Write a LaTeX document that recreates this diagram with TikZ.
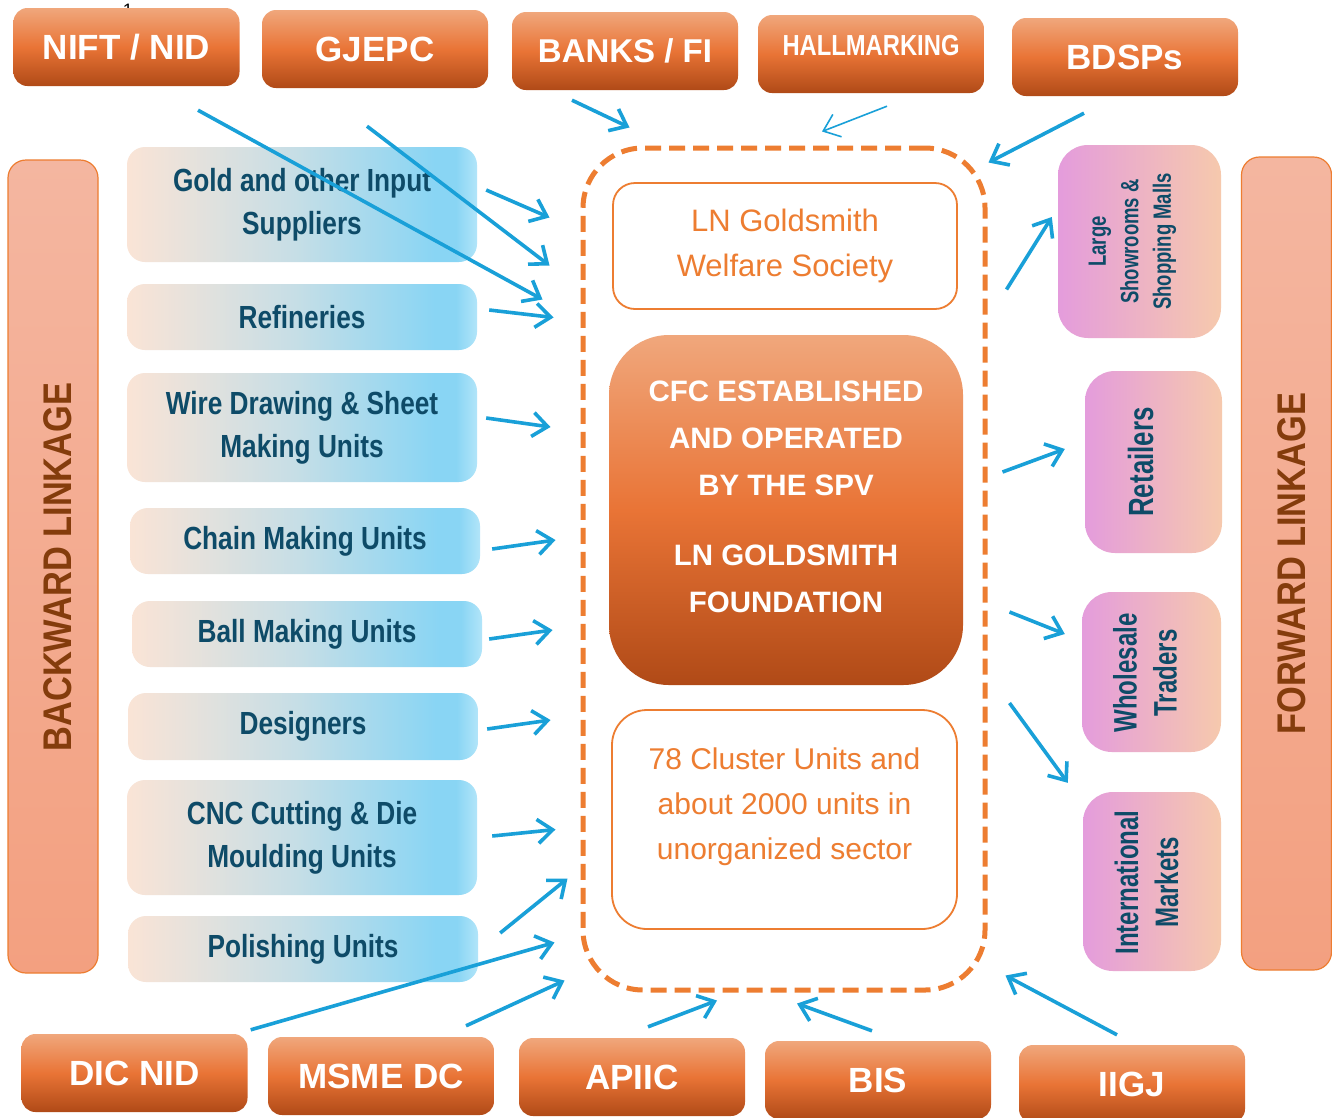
\documentclass[tikz,border=0pt]{standalone}
\usepackage{fontspec}
\setmainfont{Liberation Sans}
\newfontfamily\narrowfont[FakeStretch=0.82]{Liberation Sans}
\newfontfamily\tightfont[FakeStretch=0.74]{Liberation Sans}
\newfontfamily\linkfont[FakeStretch=0.86]{Liberation Sans}
\usetikzlibrary{arrows.meta}

\definecolor{orangeline}{RGB}{237,125,49}
\definecolor{orangetop}{RGB}{240,167,124}
\definecolor{orangemid}{RGB}{233,116,54}
\definecolor{orangebot}{RGB}{176,74,23}
\definecolor{peachleft}{RGB}{250,228,214}
\definecolor{bluemid}{RGB}{198,222,230}
\definecolor{blueright}{RGB}{137,213,244}
\definecolor{blueedge}{RGB}{178,229,249}
\definecolor{pinkleft}{RGB}{228,156,220}
\definecolor{pinkright}{RGB}{246,201,173}
\definecolor{salmontop}{RGB}{244,182,160}
\definecolor{salmonbot}{RGB}{243,160,128}
\definecolor{tealtext}{RGB}{14,75,104}
\definecolor{browntext}{RGB}{132,60,12}
\definecolor{arrowblue}{RGB}{25,160,216}

\newcommand{\fs}[2]{\fontsize{#1}{#2}\selectfont}

\pgfdeclarehorizontalshading{bluebar}{100bp}{color(0bp)=(peachleft); color(25bp)=(peachleft);
  color(49bp)=(bluemid); color(69bp)=(blueright); color(72bp)=(blueright);
  color(75bp)=(blueedge); color(100bp)=(blueedge)}

\tikzset{
  agency/.style={rounded corners=14pt, top color=orangetop, bottom color=orangebot,
    middle color=orangemid, minimum width=226pt, minimum height=78pt, inner sep=0pt,
    text=white, font=\bfseries\fs{35}{40}},
  supplier/.style={rounded corners=18pt, shading=bluebar, minimum width=350pt,
    inner sep=0pt, align=center, text=tealtext, font=\narrowfont\bfseries\fs{32}{43}},
  market/.style={rounded corners=30pt, left color=pinkleft, right color=pinkright,
    inner sep=0pt},
  markettext/.style={rotate=90, text=tealtext, align=center, inner sep=0pt},
  linkbar/.style={rounded corners=18pt, top color=salmontop, bottom color=salmonbot,
    draw=orangeline, line width=1.2pt, minimum width=90pt, minimum height=813pt},
  linktext/.style={rotate=90, text=browntext, font=\linkfont\bfseries\fs{40}{44}},
  inbox/.style={draw=orangeline, line width=1.8pt, fill=white},
  flow/.style={draw=arrowblue, line width=3.6pt, -{Straight Barb[length=15pt,width=24pt]}}
}

\begin{document}
\begin{tikzpicture}[x=1pt, y=-1pt]
	\useasboundingbox[fill=white] (0,0) rectangle (1332,1117);
	\node[font=\fs{18}{20}] (pageno) at (128,10) {1};

	% agencies on top and bottom
	\node[agency] (nift) at (126.5,47) {NIFT / NID};
	\node[agency] (gjepc) at (375,49) {GJEPC};
	\node[agency, font=\bfseries\fs{33}{40}] (banks) at (625,51) {BANKS / FI};
	\node[agency, font=\narrowfont\bfseries\fs{29}{34}] (hallm) at (871,54) {\raisebox{8pt}[\height][\depth]{HALLMARKING}};
	\node[agency] (bdsps) at (1125,57) {BDSPs};
	\node[agency] (dicnid) at (134.5,1073) {DIC NID};
	\node[agency] (msme) at (381,1076) {MSME DC};
	\node[agency] (apiic) at (632,1077) {APIIC};
	\node[agency] (bis) at (878,1080) {BIS};
	\node[agency] (iigj) at (1132,1084) {IIGJ};

	% linkage bars
	\node[linkbar] (bwd) at (53,566.5) {};
	\node[linktext] (bwdtext) at (57.5,567) {BACKWARD LINKAGE};
	\node[linkbar] (fwd) at (1286.5,563.5) {};
	\node[linktext] (fwdtext) at (1292,563.5) {FORWARD LINKAGE};

	% backward linkage units
	\node[supplier, minimum height=115pt] (gold) at (302,204.5) {Gold and other Input\\Suppliers};
	\node[supplier, minimum height=66pt] (refin) at (302,317) {Refineries};
	\node[supplier, minimum height=109pt] (wire) at (302,427.5) {Wire Drawing \& Sheet\\Making Units};
	\node[supplier, minimum height=66pt] (chain) at (305,541) {Chain Making Units};
	\node[supplier, minimum height=66pt] (ball) at (307,634) {Ball Making Units};
	\node[supplier, minimum height=67pt] (design) at (303,726.5) {Designers};
	\node[supplier, minimum height=115pt] (cnc) at (302,837.5) {CNC Cutting \& Die\\Moulding Units};
	\node[supplier, minimum height=66pt] (polish) at (303,949) {Polishing Units};

	% cluster
	\node[draw=orangeline, line width=5pt, dash pattern=on 16pt off 8pt, rounded corners=60pt,
	  minimum width=402pt, minimum height=842pt] (cluster) at (784,569) {};
	\node[inbox, rounded corners=22pt, minimum width=344pt, minimum height=126pt, align=center,
	  text=orangeline, font=\fs{31}{45}] (society) at (785,246) {LN Goldsmith\\Welfare Society};
	\node[rounded corners=60pt, top color=orangetop, bottom color=orangebot, middle color=orangemid,
	  minimum width=354pt, minimum height=350pt] (cfc) at (786,510) {};
	\node[align=center, text=white, font=\bfseries\fs{29.5}{47}] (cfctext) at (786,497)
	  {CFC ESTABLISHED\\AND OPERATED\\BY THE SPV\\[22.5pt]LN GOLDSMITH\\FOUNDATION};
	\node[inbox, rounded corners=35pt, minimum width=345pt, minimum height=219pt] (units) at (784.5,819.5) {};
	\node[align=center, text=orangeline, font=\fs{30}{45}] (unitstext) at (784.5,807)
	  {78 Cluster Units and\\about 2000 units in\\unorganized sector};

	% forward linkage markets
	\node[market, minimum width=163pt, minimum height=193pt] (malls) at (1139.5,241.5) {};
	\node[markettext, font=\tightfont\bfseries\fs{25}{32.5}] (mallstext) at (1132.5,241.5) {Large\\Showrooms \&\\Shopping Malls};
	\node[market, minimum width=137pt, minimum height=182pt] (retail) at (1153.5,462) {};
	\node[markettext, font=\tightfont\bfseries\fs{35}{40}] (retailtext) at (1140.5,462) {Retailers};
	\node[market, minimum width=139pt, minimum height=160pt] (whole) at (1151.5,672) {};
	\node[markettext, font=\tightfont\bfseries\fs{32.5}{40}] (wholetext) at (1145,673) {Wholesale\\Traders};
	\node[market, minimum width=138pt, minimum height=179pt] (intl) at (1152,881.5) {};
	\node[markettext, font=\tightfont\bfseries\fs{32.5}{40}] (intltext) at (1146.5,882.5) {International\\Markets};

	% arrows into the cluster
	\draw[flow] ([shift={(9,-14.5)}]gold.east) -- ([shift={(-31,72)}]cluster.north west);
	\draw[flow] ([shift={(71.5,24)}]nift.south) -- ([shift={(-38,154)}]cluster.north west);
	\draw[flow] ([shift={(-8,38)}]gjepc.south) -- ([shift={(-31,120)}]cluster.north west);
	\draw[flow] ([shift={(12,-7)}]refin.east) -- ([shift={(-27,172)}]cluster.north west);
	\draw[flow] ([shift={(9,-9.5)}]wire.east) -- ([shift={(-30,-142)}]cluster.west);
	\draw[flow] ([shift={(12,8)}]chain.east) -- ([shift={(-25,-29)}]cluster.west);
	\draw[flow] ([shift={(7,5)}]ball.east) -- ([shift={(-28,61)}]cluster.west);
	\draw[flow] ([shift={(9,2.5)}]design.east) -- ([shift={(-30,151)}]cluster.west);
	\draw[flow] ([shift={(15,-1.5)}]cnc.east) -- ([shift={(-25,-163)}]cluster.south west);
	\draw[flow] ([shift={(22,-16)}]polish.east) -- ([shift={(-13,-114)}]cluster.south west);
	\draw[flow] ([shift={(3,-4)}]dicnid.north east) -- ([shift={(-26,-50)}]cluster.south west);
	\draw[flow] ([shift={(85,-11)}]msme.north) -- ([shift={(-16,-12)}]cluster.south west);
	\draw[flow] ([shift={(16,-11)}]apiic.north) -- ([shift={(-67,8)}]cluster.south);
	\draw[flow] ([shift={(-6,-10)}]bis.north) -- ([shift={(13,11)}]cluster.south);
	\draw[flow] ([shift={(-15,-10)}]iigj.north) -- ([shift={(18,-17)}]cluster.south east);
	\draw[flow] ([shift={(-53,10)}]banks.south) -- ([shift={(49,-18)}]cluster.north west);
	\draw[flow, line width=1.6pt] ([shift={(16,13)}]hallm.south) -- ([shift={(38,-14)}]cluster.north);
	\draw[flow] ([shift={(-41,17)}]bdsps.south) -- ([shift={(1,17)}]cluster.north east);

	% arrows out to the markets
	\draw[flow] ([shift={(19,144)}]cluster.north east) -- ([shift={(-6,-24.5)}]malls.west);
	\draw[flow] ([shift={(15,-97)}]cluster.east) -- ([shift={(-20,-13)}]retail.west);
	\draw[flow] ([shift={(22,43)}]cluster.east) -- ([shift={(-17,-38)}]whole.west);
	\draw[flow] ([shift={(22,134)}]cluster.east) -- ([shift={(-15,-9)}]intl.north west);
\end{tikzpicture}
\end{document}
